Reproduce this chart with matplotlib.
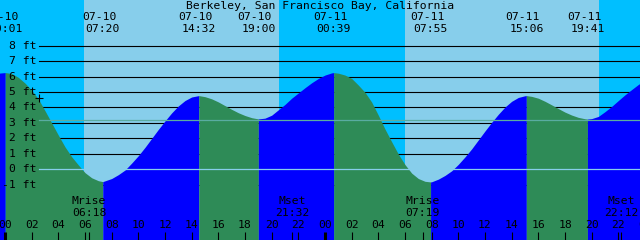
import numpy as np
import matplotlib
matplotlib.use("Agg")
import matplotlib.pyplot as plt

# tide curve (hours from 07-10 00:00, feet)
tide_hours = [-0.5, 0.017, 0.5, 1, 1.5, 2, 2.5, 3, 3.5, 4, 4.5, 5, 5.5, 6, 6.5, 7, 7.333,
              8, 8.5, 9, 9.5, 10, 10.5, 11, 11.5, 12, 12.5, 13, 13.5, 14, 14.533,
              15, 15.5, 16, 16.5, 17, 17.5, 18, 18.5, 19.0,
              19.5, 20, 20.5, 21, 21.5, 22, 22.5, 23, 23.5, 24, 24.5, 24.65,
              25, 25.5, 26, 26.5, 27, 27.5, 28, 28.5, 29, 29.5, 30, 30.5, 31, 31.5, 31.917,
              32, 32.5, 33, 33.5, 34, 34.5, 35, 35.5, 36, 36.5, 37, 37.5, 38, 38.5, 39, 39.1,
              39.5, 40, 40.5, 41, 41.5, 42, 42.5, 43, 43.5, 43.683,
              44, 44.5, 45, 45.5, 46, 46.5, 47, 47.5, 48]
tide_ft = [6.22, 6.26, 6.2, 5.95, 5.58, 5.12, 4.55, 3.79, 3.0, 2.21, 1.45, 0.81, 0.28, -0.22, -0.55, -0.74, -0.80,
           -0.6, -0.35, -0.05, 0.4, 0.88, 1.42, 2.0, 2.58, 3.13, 3.65, 4.1, 4.45, 4.68, 4.77,
           4.7, 4.56, 4.36, 4.12, 3.88, 3.66, 3.48, 3.34, 3.26,
           3.31, 3.5, 3.85, 4.2, 4.6, 4.94, 5.28, 5.6, 5.88, 6.1, 6.24, 6.26,
           6.22, 6.1, 5.88, 5.45, 4.98, 4.35, 3.5, 2.6, 1.78, 0.98, 0.3, -0.25, -0.6, -0.78, -0.82,
           -0.81, -0.64, -0.4, -0.1, 0.32, 0.8, 1.32, 1.9, 2.48, 3.04, 3.56, 4.03, 4.4, 4.65, 4.76, 4.77,
           4.72, 4.6, 4.4, 4.17, 3.93, 3.7, 3.51, 3.36, 3.27, 3.25,
           3.28, 3.42, 3.73, 4.07, 4.45, 4.82, 5.16, 5.49, 5.77]

# high / low tide events
event_hours = [0.017, 7.333, 14.533, 19.0, 24.65, 31.917, 39.1, 43.683]
event_dates = ["07-10", "07-10", "07-10", "07-10", "07-11", "07-11", "07-11", "07-11"]
event_times = ["00:01", "07:20", "14:32", "19:00", "00:39", "07:55", "15:06", "19:41"]

# moon rise / set
moon_hours = [6.3, 21.533, 31.317, 46.2]
moon_labels = ["Mrise\n06:18", "Mset\n21:32", "Mrise\n07:19", "Mset\n22:12"]

# daylight (sunrise, sunset)
day_spans = [(5.93, 20.57), (29.98, 44.57)]

ft_levels = [-1, 0, 1, 2, 3, 4, 5, 6, 7, 8]
msl_ft = 3.17
now_hour, now_ft = 2.55, 4.6

title = "Berkeley, San Francisco Bay, California"

NIGHT = "#00BFFF"
DAY = "#87CEEB"
FLOOD = "#0000FF"
EBB = "#2E8B57"
FONT = "DejaVu Sans Mono"
FS = 8.2

PX_PER_HOUR = 13.333
x0, x1 = -0.375, 47.625
y0, y1 = -4.58, 10.96

t = np.array(tide_hours)
h = np.array(tide_ft)

fig = plt.figure(figsize=(6.4, 2.4), dpi=100)
ax = fig.add_axes([0, 0, 1, 1])
ax.set_xlim(x0, x1)
ax.set_ylim(y0, y1)
ax.axis("off")

# sky
ax.axvspan(x0, x1, color=NIGHT, zorder=0, lw=0)
for a, b in day_spans:
    ax.axvspan(a, b, color=DAY, zorder=0, lw=0)

# foot lines, behind the water
line_start = (39 - 5) / PX_PER_HOUR
for lv in ft_levels:
    if lv != 0:
        ax.plot([line_start, x1], [lv, lv], color="black", lw=0.8, zorder=1)

# water: blue while rising, green while falling
bounds = [t[0]] + event_hours + [t[-1]]
for a, b in zip(bounds[:-1], bounds[1:]):
    m = (t >= a) & (t <= b)
    rising = np.interp(b, t, h) > np.interp(a, t, h)
    ax.fill_between(t[m], h[m], y0 - 1, color=FLOOD if rising else EBB,
                    lw=0, zorder=2)

ax.plot([line_start, x1], [msl_ft, msl_ft], color="#5AACA1", lw=0.9, zorder=3)
ax.plot([line_start, x1], [0, 0], color=DAY, lw=0.9, zorder=3)

ax.plot(now_hour, now_ft, marker="+", color="black", ms=6, mew=0.8, zorder=5)

# foot labels
label_x = (36 - 5) / PX_PER_HOUR
for lv in ft_levels:
    ax.text(label_x, lv, f"{lv} ft", ha="right", va="center",
            fontsize=FS, family=FONT, zorder=4)

# header
px = 1 / 240
fig.text(0.5, 1 - 6 * px, title, ha="center", va="center", fontsize=FS, family=FONT)
xt = ax.get_xaxis_transform()
for eh, ed, et in zip(event_hours, event_dates, event_times):
    ax.text(eh - 3.5 / PX_PER_HOUR, 1 - 17.5 * px, ed, transform=xt, ha="center",
            va="center", fontsize=FS, family=FONT, zorder=4)
    ax.text(eh, 1 - 29.5 * px, et, transform=xt, ha="center",
            va="center", fontsize=FS, family=FONT, zorder=4)

# moon labels
for mh, ml in zip(moon_hours, moon_labels):
    top, bot = ml.split("\n")
    ax.text(mh, 1 - 201.5 * px, top, transform=xt, ha="center", va="center",
            fontsize=FS, family=FONT, zorder=4)
    ax.text(mh, 1 - 212.7 * px, bot, transform=xt, ha="center", va="center",
            fontsize=FS, family=FONT, zorder=4)

# hour axis
tick_top = 1 - 231.5 * px
for hr in range(0, 50, 2):
    ax.text(hr, 1 - 225.5 * px, f"{hr % 24:02d}", transform=xt, ha="center",
            va="center", fontsize=FS, family=FONT, zorder=4)
    lw = 2.2 if hr % 24 == 0 else 0.8
    ax.plot([hr, hr], [0, tick_top], transform=xt, color="black", lw=lw,
            zorder=4, solid_capstyle="butt")
for mh in moon_hours:
    ax.plot([mh, mh], [0, tick_top], transform=xt, color="black", lw=0.8,
            zorder=4, solid_capstyle="butt")

fig.savefig("out.png", dpi=100)
